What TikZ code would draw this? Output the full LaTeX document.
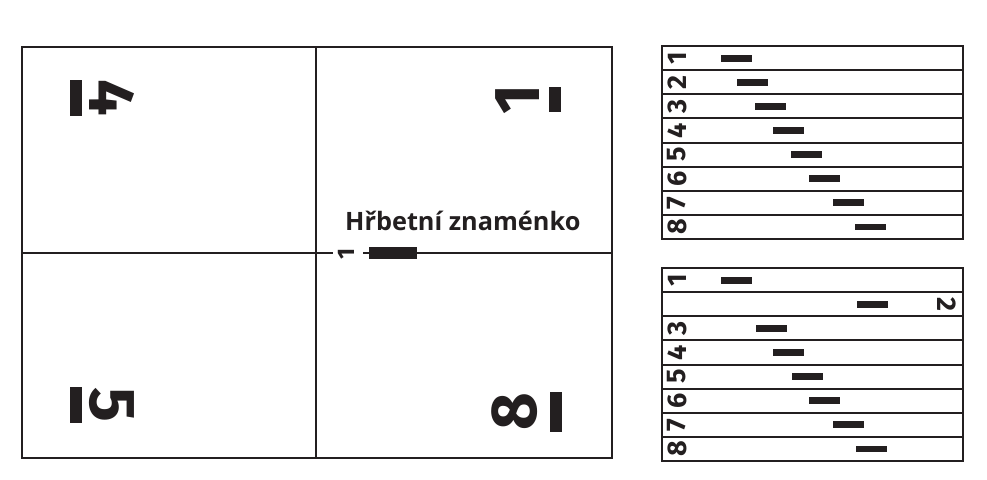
\documentclass[tikz,border=0pt]{standalone}
\usepackage{fontspec}
\newfontfamily\hbfont{Open Sans}
\newfontfamily\numfont{Fira Sans Bold}
\definecolor{ink}{HTML}{231F20}
\tikzset{
  frame/.style={draw=ink, line width=2pt},
  bignum/.style={inner sep=0pt, text=ink, font=\numfont\fontsize{65}{65}\selectfont},
  tabnum/.style={inner sep=0pt, text=ink, font=\numfont\fontsize{27}{27}\selectfont},
  spinenum/.style={inner sep=0pt, text=ink, font=\numfont\fontsize{24}{24}\selectfont},
  caption/.style={inner sep=0pt, text=ink, font=\hbfont\bfseries\fontsize{25.3}{25.3}\selectfont, anchor=base west},
  markbar/.style={fill=ink},
}
\begin{document}
\begin{tikzpicture}[x=1pt,y=-1pt]
\useasboundingbox (0,0) rectangle (987,479);
\fill[white] (0,0) rectangle (987,479);

% main sheet
\draw[frame] (22,47) rectangle (612,458);
\draw[frame] (316,47) -- (316,458);
\coordinate (hl) at (22,253);
\coordinate (hgapl) at (333,253);
\coordinate (hgapr) at (363,253);
\coordinate (hr) at (612,253);
\draw[frame] (hl) -- (hgapl);
\draw[frame] (hgapr) -- (hr);

% page numbers
\node[bignum, rotate=-90] (p4) at (112.5,98) {4};
\fill[markbar] (70,80) rectangle (82,116);
\node[bignum, rotate=90] (p1) at (518,99) {1};
\fill[markbar] (549,87) rectangle (561,112);
\node[bignum, rotate=-90] (p5) at (112,405) {5};
\fill[markbar] (70,387) rectangle (82,423);
\node[bignum, rotate=90] (p8) at (515,412) {8};
\fill[markbar] (550,392) rectangle (562,432);

% spine mark
\node[caption] (cap) at (345,230) {Hřbetní znaménko};
\node[spinenum, rotate=90] (s1) at (346,254) {1};
\fill[markbar] (369,247) rectangle (417,259);

% table 1
\draw[frame] (662,46) rectangle (963,239);
\foreach \i in {1,...,7} {
  \draw[frame] (662,46+24.125*\i) -- (963,46+24.125*\i);
}
\foreach \i/\x in {1/721,2/737,3/755,4/773,5/791,6/809,7/833,8/855} {
  \node[tabnum, rotate=90] (ta\i) at (677,46+24.125*\i-12.06) {\i};
  \fill[markbar] (\x,46+24.125*\i-15.5) rectangle (\x+31,46+24.125*\i-8.6);
}

% table 2
\draw[frame] (662,268) rectangle (963,461);
\foreach \i in {1,...,7} {
  \draw[frame] (662,268+24.125*\i) -- (963,268+24.125*\i);
}
\foreach \i/\x in {1/721,3/756,4/773,5/792,6/809,7/833,8/856} {
  \node[tabnum, rotate=90] (tb\i) at (677,268+24.125*\i-12.06) {\i};
}
\foreach \i/\x in {1/721,2/857,3/756,4/773,5/792,6/809,7/833,8/856} {
  \fill[markbar] (\x,268+24.125*\i-15.5) rectangle (\x+31,268+24.125*\i-8.6);
}
\node[tabnum, rotate=-90] (tb2) at (947,268+24.125*2-12.06) {2};
\end{tikzpicture}
\end{document}
